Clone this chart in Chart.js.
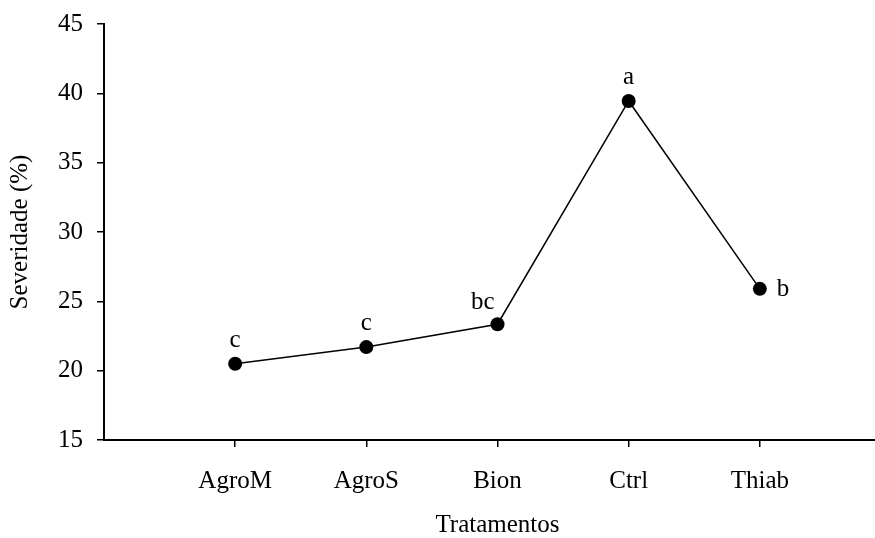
<!doctype html>
<html lang="pt">
  <head>
    <meta charset="utf-8">
    <title>Severidade</title>
    <script src="https://cdn.jsdelivr.net/npm/chart.js"></script>
    <style>
      html, body { margin: 0; padding: 0; background: #fff; overflow: hidden; }
      /* o eixo x do original continua alem da borda direita da figura */
      #wrap { width: 898px; height: 538px; }
    </style>
  </head>
  <body>
    <div id="wrap">
      <canvas id="myChart"></canvas>
    </div>
    <script>
      // tratamentos e severidade media (%)
      const tratamentos = ["AgroM", "AgroS", "Bion", "Ctrl", "Thiab"];
      const severidade = [20.5, 21.7, 23.35, 39.45, 25.9];
      const letras = ["c", "c", "bc", "a", "b"];
      const letraPos = ["above", "above", "aboveLeft", "above", "right"];
      const yTicks = [15, 20, 25, 30, 35, 40, 45];

      const fonte = "'Liberation Serif', 'Times New Roman', serif";

      // letras de significancia ao lado dos pontos
      const letrasPlugin = {
        id: "letras",
        afterDatasetsDraw(chart) {
          const c = chart.ctx;
          const pts = chart.getDatasetMeta(0).data;
          c.save();
          c.font = "25px " + fonte;
          c.fillStyle = "#000";
          c.textBaseline = "alphabetic";
          pts.forEach(function (p, i) {
            const pos = letraPos[i];
            if (pos === "right") {
              c.textAlign = "left";
              c.fillText(letras[i], p.x + 17, p.y + 7);
            } else if (pos === "aboveLeft") {
              c.textAlign = "right";
              c.fillText(letras[i], p.x - 3, p.y - 15);
            } else {
              c.textAlign = "center";
              c.fillText(letras[i], p.x, p.y - 17);
            }
          });
          c.restore();
        }
      };

      const pontos = severidade.map(function (v, i) { return { x: i + 1, y: v }; });

      const ctx = document.getElementById("myChart");
      const myChart = new Chart(ctx, {
        type: "line",
        data: {
          datasets: [
            {
              data: pontos,
              borderColor: "#000",
              borderWidth: 1.5,
              backgroundColor: "#000",
              pointRadius: 7,
              pointBackgroundColor: "#000",
              pointBorderWidth: 0,
              tension: 0,
              fill: false
            }
          ]
        },
        options: {
          responsive: true,
          maintainAspectRatio: false,
          animation: false,
          layout: { padding: { left: 1, right: 0, top: 24, bottom: 0 } },
          plugins: {
            legend: { display: false },
            tooltip: { enabled: false }
          },
          scales: {
            x: {
              type: "linear",
              min: 0,
              max: 6,
              afterBuildTicks: function (axis) {
                axis.ticks = tratamentos.map(function (t, i) { return { value: i + 1 }; });
              },
              ticks: {
                autoSkip: false,
                maxRotation: 0,
                color: "#000",
                padding: 19,
                font: { family: fonte, size: 25 },
                callback: function (v) { return tratamentos[v - 1] || ""; }
              },
              grid: { drawOnChartArea: false, drawTicks: true, tickLength: 7, color: "#000", lineWidth: 1.5 },
              border: { color: "#000", width: 2 },
              title: {
                display: true,
                text: "Tratamentos",
                color: "#000",
                font: { family: fonte, size: 25 },
                padding: { top: -5, bottom: -2 }
              }
            },
            y: {
              min: 15,
              max: 45,
              afterBuildTicks: function (axis) {
                axis.ticks = yTicks.map(function (v) { return { value: v }; });
              },
              ticks: {
                color: "#000",
                padding: 14,
                font: { family: fonte, size: 25, lineHeight: 0.6 }
              },
              grid: { drawOnChartArea: false, drawTicks: true, tickLength: 7, color: "#000", lineWidth: 1.5 },
              border: { color: "#000", width: 2 },
              title: {
                display: true,
                text: "Severidade (%)",
                color: "#000",
                font: { family: fonte, size: 25 },
                padding: { top: 4, bottom: 9 }
              }
            }
          }
        },
        plugins: [letrasPlugin]
      });
    </script>
  </body>
</html>
